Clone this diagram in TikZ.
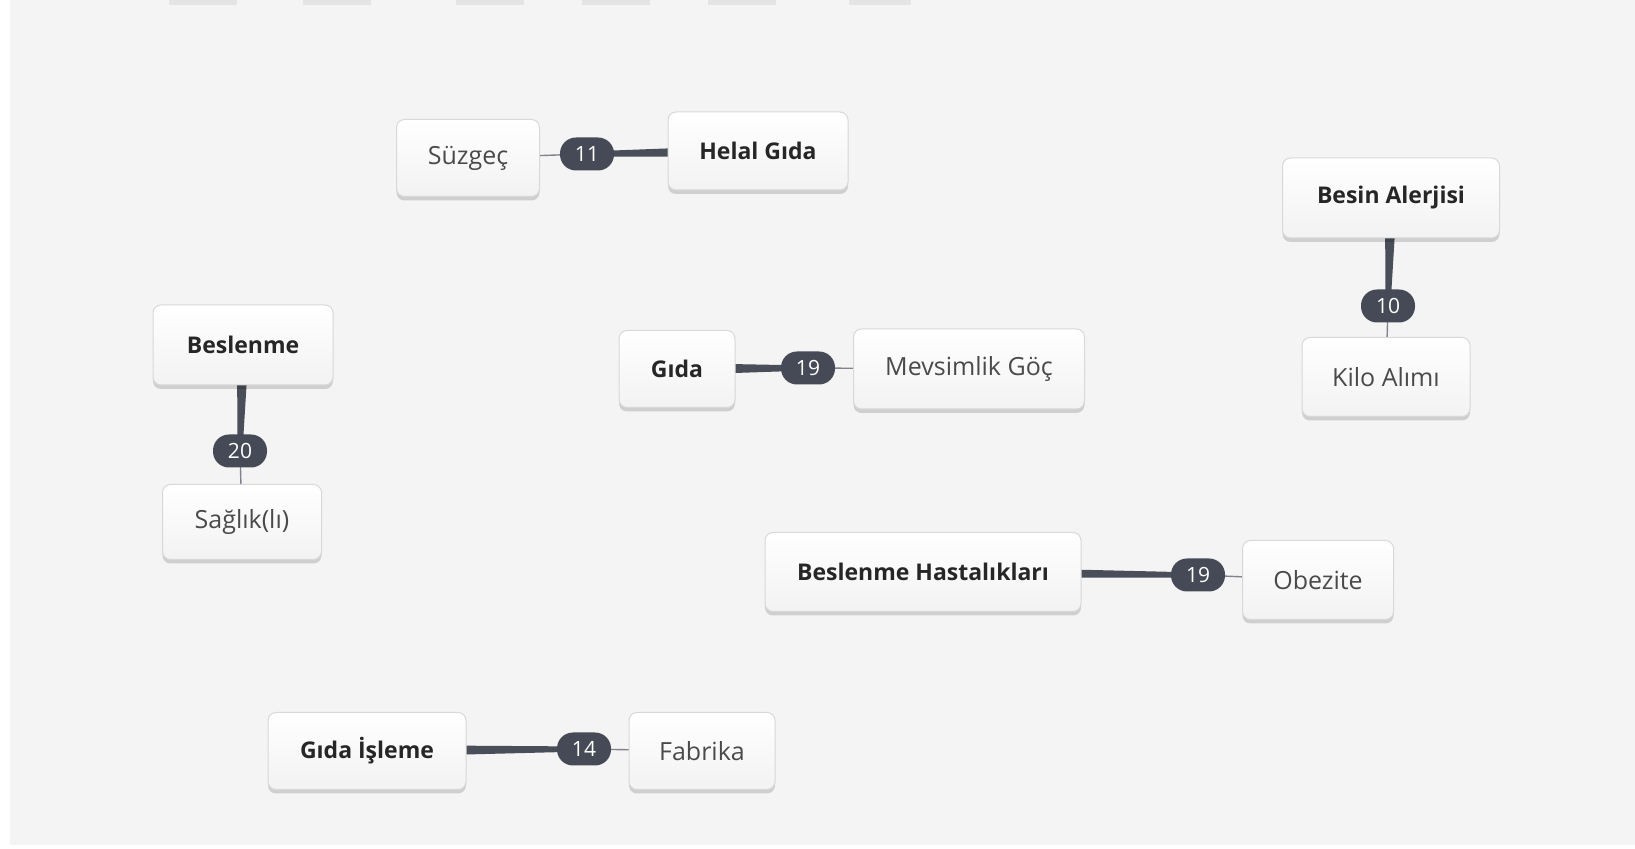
\documentclass[tikz,border=0pt]{standalone}
\usepackage{fontspec}
\setmainfont{Open Sans}
\usetikzlibrary{calc, shadows}

\definecolor{canvas}{HTML}{F4F4F4}
\definecolor{stubcol}{HTML}{E4E4E4}
\definecolor{badgecol}{HTML}{464A57}
\definecolor{linkcol}{HTML}{4A4E59}
\definecolor{rimcol}{HTML}{D8D8D8}
\definecolor{keytext}{HTML}{262626}
\definecolor{plaintext}{HTML}{4A4A4A}

\pgfdeclarelayer{canvaslayer}
\pgfdeclarelayer{linklayer}
\pgfsetlayers{canvaslayer,linklayer,main}

% thick wedge from the key word to its badge, hairline on to the partner
\newcommand{\taperlink}[3]{%
  \fill[linkcol] ($(#1.center)!3pt!90:(#2.center)$) -- ($(#2.center)!1.25pt!-90:(#1.center)$)
    -- ($(#2.center)!1.25pt!90:(#1.center)$) -- ($(#1.center)!3pt!-90:(#2.center)$) -- cycle;
  \draw[linkcol!70, line width=0.7pt] (#2.center) -- (#3.center);
}

\begin{document}
\begin{tikzpicture}[
    x=0.5pt, y=-0.5pt,
    box/.style={draw=rimcol, line width=0.5pt, rounded corners=4pt, top color=white, bottom color=black!5,
      drop shadow={shadow xshift=0pt, shadow yshift=-2pt, opacity=0.15, fill=black},
      inner sep=0pt, align=center, text=plaintext, font=\fontsize{12.5}{14}\selectfont},
    keybox/.style={box, text=keytext, font=\fontsize{11.5}{13}\selectfont\bfseries},
    badge/.style={fill=badgecol, rounded corners=8pt, minimum width=27pt, minimum height=16.5pt,
      inner sep=0pt, text=white, font=\fontsize{10.5}{11}\selectfont}
  ]
    \useasboundingbox (0,0) rectangle (1635,849);
    \begin{pgfonlayer}{canvaslayer}
      \fill[white] (0,0) rectangle (1635,849);
      \fill[canvas] (10,0) rectangle (1635,845);
      \foreach \xa/\xb in {169/237, 303/371, 456/524, 582/650, 708/776, 849/911}
        \fill[stubcol] (\xa,0) rectangle (\xb,5);
    \end{pgfonlayer}

    \node[box, minimum width=71.5pt, minimum height=38.5pt] (suzgec) at (468,158) {Süzgeç};
    \node[keybox, minimum width=90pt, minimum height=39pt] (helal) at (758,151) {Helal Gıda};

    \node[keybox, minimum width=90pt, minimum height=40pt] (beslenme) at (243,345) {Beslenme};
    \node[box, minimum width=79.5pt, minimum height=37.5pt] (saglik) at (242,522) {Sağlık(lı)};

    \node[keybox, minimum width=108.5pt, minimum height=40pt] (besin) at (1391,198) {Besin Alerjisi};
    \node[box, minimum width=84pt, minimum height=39.5pt] (kilo) at (1386,377) {Kilo Alımı};

    \node[keybox, minimum width=58pt, minimum height=38.5pt] (gida) at (677,369) {Gıda};
    \node[box, minimum width=115.5pt, minimum height=40pt] (mevsim) at (969,369) {Mevsimlik Göç};

    \node[keybox, minimum width=158pt, minimum height=39.5pt] (hastalik) at (923,572) {Beslenme Hastalıkları};
    \node[box, minimum width=75.5pt, minimum height=39.5pt] (obezite) at (1318,580) {Obezite};

    \node[keybox, minimum width=99pt, minimum height=38.5pt] (isleme) at (367,751) {Gıda İşleme};
    \node[box, minimum width=73pt, minimum height=38.5pt] (fabrika) at (702,751) {Fabrika};

    % weights
    \node[badge] (w11) at (587,154) {11};
    \node[badge] (w20) at (240,451) {20};
    \node[badge] (w10) at (1388,306) {10};
    \node[badge] (w19a) at (808,368) {19};
    \node[badge] (w19b) at (1198,575) {19};
    \node[badge] (w14) at (584,749) {14};

    \begin{pgfonlayer}{linklayer}
      \taperlink{helal}{w11}{suzgec}
      \taperlink{beslenme}{w20}{saglik}
      \taperlink{besin}{w10}{kilo}
      \taperlink{gida}{w19a}{mevsim}
      \taperlink{hastalik}{w19b}{obezite}
      \taperlink{isleme}{w14}{fabrika}
    \end{pgfonlayer}
  \end{tikzpicture}
\end{document}
